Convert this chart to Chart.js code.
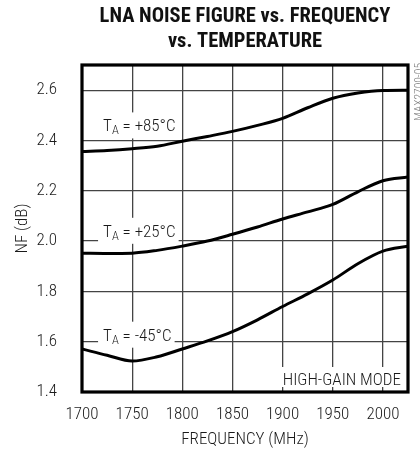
<!DOCTYPE html>
<html>
<head>
<meta charset="utf-8">
<script src="https://cdn.jsdelivr.net/npm/chart.js@4/dist/chart.umd.min.js"></script>
<style>
  html, body { margin: 0; padding: 0; background: #fff; }
  #wrap { width: 420px; height: 452px; position: relative; }
</style>
</head>
<body>
<div id="wrap"><canvas id="c"></canvas></div>
<script>
// Frequency sweep (MHz)
const frequency = [1700, 1725, 1750, 1775, 1800, 1825, 1850, 1875, 1900, 1925, 1950, 1975, 2000, 2025];

// Noise figure (dB) at each ambient temperature
const nfPlus85  = [2.356, 2.360, 2.367, 2.377, 2.397, 2.416, 2.436, 2.460, 2.488, 2.530, 2.568, 2.589, 2.599, 2.600];
const nfPlus25  = [1.952, 1.951, 1.952, 1.963, 1.980, 2.000, 2.027, 2.056, 2.088, 2.116, 2.146, 2.196, 2.240, 2.255];
const nfMinus45 = [1.571, 1.546, 1.523, 1.540, 1.571, 1.603, 1.640, 1.687, 1.740, 1.790, 1.845, 1.910, 1.960, 1.980];

// Axis tick values
const freqTicks = [1700, 1750, 1800, 1850, 1900, 1950, 2000];
const nfTicks = [1.4, 1.6, 1.8, 2.0, 2.2, 2.4, 2.6];

// Curve labels: temperature text, anchored at (frequency, NF) of text baseline start
const curveLabels = [
  { temp: '+85°C', freq: 1721, nf: 2.436 },
  { temp: '+25°C', freq: 1721, nf: 2.017 },
  { temp: '-45°C', freq: 1721, nf: 1.604 }
];

const titleLines = ['LNA NOISE FIGURE vs. FREQUENCY', 'vs. TEMPERATURE'];
const modeNote = 'HIGH-GAIN MODE';
const partTag = 'MAX2700-05';

const FONT = '"Roboto Condensed", "DejaVu Sans Condensed", sans-serif';
const WEIGHT = 300;
const INK = '#1a1a1a';

function series(values) {
  return frequency.map((f, i) => ({ x: f, y: values[i] }));
}

function font(size) {
  return WEIGHT + ' ' + size + 'px ' + FONT;
}

const overlay = {
  id: 'overlay',
  afterDatasetsDraw(chart) {
    const { ctx, chartArea: a, scales: { x, y } } = chart;
    ctx.save();

    // Temperature labels with white backing
    curveLabels.forEach(l => {
      const px = x.getPixelForValue(l.freq);
      const py = y.getPixelForValue(l.nf);
      ctx.font = font(17);
      const wT = ctx.measureText('T').width;
      ctx.font = font(12.5);
      const wA = ctx.measureText('A').width;
      ctx.font = font(17);
      const rest = ' = ' + l.temp;
      const wR = ctx.measureText(rest).width;
      const total = wT + wA + wR;
      ctx.fillStyle = '#fff';
      ctx.fillRect(px - 5, py - 19, total + 8, 26);
      ctx.fillStyle = INK;
      ctx.textBaseline = 'alphabetic';
      ctx.textAlign = 'left';
      ctx.fillText('T', px, py);
      ctx.font = font(12.5);
      ctx.fillText('A', px + wT, py + 3);
      ctx.font = font(17);
      ctx.fillText(rest, px + wT + wA, py);
    });

    // Operating mode note, lower right
    ctx.font = font(17);
    const wm = ctx.measureText(modeNote).width;
    ctx.fillStyle = '#fff';
    ctx.fillRect(a.right - 7 - wm - 3, a.bottom - 25, wm + 6, 20);
    ctx.fillStyle = INK;
    ctx.textAlign = 'right';
    ctx.textBaseline = 'alphabetic';
    ctx.fillText(modeNote, a.right - 7, a.bottom - 7);

    // Plot frame
    ctx.strokeStyle = '#000';
    ctx.lineWidth = 3.2;
    ctx.strokeRect(a.left, a.top, a.right - a.left, a.bottom - a.top);

    // Part tag along right edge
    ctx.translate(a.right + 5, a.top - 2);
    ctx.rotate(-Math.PI / 2);
    ctx.font = font(11.5);
    ctx.fillStyle = '#7a7a7a';
    ctx.textAlign = 'right';
    ctx.textBaseline = 'top';
    ctx.fillText(partTag, 0, 0);
    ctx.restore();

    // Title centred over the plot
    ctx.save();
    ctx.font = 'bold 20.5px ' + FONT;
    ctx.fillStyle = '#111';
    ctx.textAlign = 'center';
    ctx.textBaseline = 'alphabetic';
    const cx = (a.left + a.right) / 2;
    ctx.fillText(titleLines[0], cx, 22);
    ctx.fillText(titleLines[1], cx, 47);
    ctx.restore();
  }
};

const lineStyle = {
  borderColor: '#000',
  borderWidth: 3,
  pointRadius: 0,
  fill: false,
  cubicInterpolationMode: 'monotone'
};

const tickFont = { family: FONT, size: 17, weight: WEIGHT };

new Chart(document.getElementById('c'), {
  type: 'line',
  data: {
    datasets: [
      Object.assign({ label: 'TA = +85°C', data: series(nfPlus85) }, lineStyle),
      Object.assign({ label: 'TA = +25°C', data: series(nfPlus25) }, lineStyle),
      Object.assign({ label: 'TA = -45°C', data: series(nfMinus45) }, lineStyle)
    ]
  },
  options: {
    responsive: true,
    maintainAspectRatio: false,
    animation: false,
    layout: { padding: { top: 65, right: 12, left: 0, bottom: 0 } },
    plugins: {
      legend: { display: false },
      tooltip: { enabled: false },
      title: { display: false }
    },
    scales: {
      x: {
        type: 'linear',
        min: 1700,
        max: 2025,
        afterBuildTicks: s => { s.ticks = freqTicks.map(v => ({ value: v })); },
        afterFit: s => { s.height = 60; },
        grid: { color: '#444', lineWidth: 1.3, drawTicks: false },
        border: { display: false },
        ticks: {
          padding: 13,
          color: INK,
          font: tickFont,
          maxRotation: 0,
          callback: v => String(v)
        },
        title: {
          display: true,
          text: 'FREQUENCY (MHz)',
          color: INK,
          font: tickFont,
          padding: { top: 0, bottom: 2 }
        }
      },
      y: {
        type: 'linear',
        min: 1.4,
        max: 2.7,
        afterBuildTicks: s => { s.ticks = nfTicks.map(v => ({ value: v })); },
        afterFit: s => { s.width = 82; },
        grid: { color: '#444', lineWidth: 1.3, drawTicks: false },
        border: { display: false },
        ticks: {
          padding: 25,
          color: INK,
          font: tickFont,
          callback: v => v.toFixed(1)
        },
        title: {
          display: true,
          text: 'NF (dB)',
          color: INK,
          font: tickFont,
          padding: { top: 13, bottom: 0 }
        }
      }
    }
  },
  plugins: [overlay]
});
</script>
</body>
</html>
